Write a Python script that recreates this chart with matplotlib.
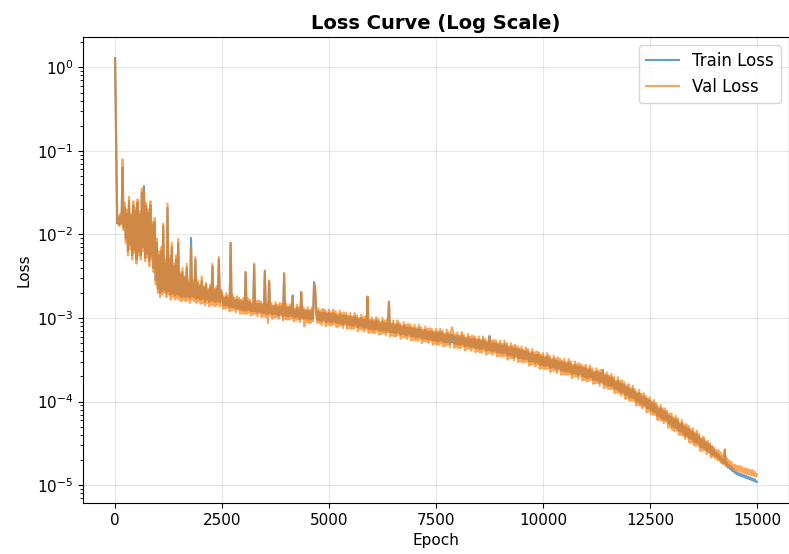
import numpy as np
import matplotlib
matplotlib.use('Agg')
import matplotlib.pyplot as plt

matplotlib.rcParams['path.simplify'] = False

# Data, log10(loss) every 25 epochs
epochs = np.arange(0, 15001, 25)

train_log10 = [
    # 0 - 2475
    0.11, -0.90, -1.87, -1.80, -1.88, -1.78, -1.86, -1.20, -1.92, -1.68,
    -2.05, -1.75, -2.20, -1.60, -2.12, -1.78, -2.25, -1.65, -2.18, -1.72,
    -2.30, -1.62, -2.20, -1.76, -2.25, -1.50, -2.15, -1.42, -2.28, -1.66,
    -2.24, -1.74, -2.32, -1.65, -2.26, -1.88, -2.40, -1.85, -2.55, -2.10,
    -2.65, -2.25, -2.70, -2.20, -2.68, -1.90, -2.66, -2.35, -2.70, -1.68,
    -2.68, -2.30, -2.72, -2.15, -2.70, -2.38, -2.73, -2.30, -2.72, -2.10,
    -2.73, -2.48, -2.75, -2.45, -2.74, -2.52, -2.75, -2.40, -2.74, -2.58,
    -2.76, -2.04, -2.74, -2.58, -2.75, -2.30, -2.77, -2.58, -2.76, -2.62,
    -2.78, -2.55, -2.77, -2.64, -2.80, -2.60, -2.78, -2.67, -2.81, -2.63,
    -2.79, -2.38, -2.80, -2.67, -2.81, -2.65, -2.80, -2.30, -2.81, -2.68,
    # 2500
    -2.74, -2.85, -2.76, -2.85, -2.74, -2.85, -2.76, -2.87, -2.10, -2.87,
    -2.76, -2.87, -2.79, -2.89, -2.78, -2.88, -2.79, -2.90, -2.80, -2.90,
    # 3000
    -2.80, -2.91, -2.45, -2.91, -2.80, -2.90, -2.81, -2.92, -2.84, -2.92,
    -2.36, -2.92, -2.83, -2.94, -2.83, -2.92, -2.83, -2.94, -2.85, -2.94,
    # 3500
    -2.44, -2.95, -2.85, -2.95, -2.56, -2.94, -2.85, -2.96, -2.87, -2.95,
    -2.85, -2.96, -2.87, -2.97, -2.86, -2.95, -2.86, -2.98, -2.47, -2.97,
    # 4000
    -2.87, -2.98, -2.88, -2.98, -2.87, -2.97, -2.73, -2.99, -2.91, -2.99,
    -2.88, -2.99, -2.90, -3.01, -2.69, -2.99, -2.90, -3.01, -2.92, -3.01,
    # 4500
    -2.91, -3.02, -2.92, -3.02, -2.91, -3.01, -2.57, -2.65, -2.94, -3.02,
    -2.92, -3.03, -2.94, -3.04, -2.93, -3.02, -2.93, -3.05, -2.95, -3.04,
    # 5000
    -2.94, -3.05, -2.95, -3.05, -2.94, -3.04, -2.95, -3.06, -2.98, -3.06,
    -2.95, -3.06, -2.97, -3.08, -2.97, -3.06, -2.97, -3.08, -2.99, -3.08,
    # 5500
    -2.98, -3.09, -3.00, -3.09, -2.98, -3.08, -3.00, -3.11, -3.02, -3.10,
    -3.00, -3.11, -3.02, -3.12, -3.02, -3.11, -2.75, -3.13, -3.04, -3.13,
    # 6000
    -3.03, -3.14, -3.04, -3.14, -3.03, -3.13, -3.04, -3.15, -3.07, -3.15,
    -3.04, -3.15, -3.06, -3.17, -3.06, -3.15, -2.81, -3.17, -3.08, -3.17,
    # 6500
    -3.07, -3.18, -3.09, -3.18, -3.07, -3.17, -3.09, -3.20, -3.11, -3.19,
    -3.09, -3.20, -3.11, -3.21, -3.11, -3.20, -3.11, -3.22, -3.13, -3.22,
    # 7000
    -3.12, -3.23, -3.14, -3.23, -3.12, -3.22, -3.14, -3.25, -3.16, -3.24,
    -3.14, -3.25, -3.16, -3.26, -3.16, -3.25, -3.16, -3.27, -3.18, -3.27,
    # 7500
    -3.17, -3.28, -3.18, -3.28, -3.17, -3.27, -3.18, -3.29, -3.21, -3.29,
    -3.18, -3.29, -3.20, -3.31, -3.20, -3.29, -3.20, -3.31, -3.22, -3.31,
    # 8000
    -3.21, -3.32, -3.23, -3.32, -3.21, -3.31, -3.23, -3.34, -3.25, -3.33,
    -3.23, -3.34, -3.25, -3.35, -3.25, -3.34, -3.25, -3.36, -3.27, -3.36,
    # 8500
    -3.26, -3.37, -3.28, -3.37, -3.26, -3.36, -3.28, -3.39, -3.30, -3.38,
    -3.22, -3.39, -3.30, -3.40, -3.30, -3.39, -3.30, -3.41, -3.32, -3.41,
    # 9000
    -3.31, -3.42, -3.33, -3.42, -3.31, -3.42, -3.33, -3.45, -3.36, -3.44,
    -3.34, -3.45, -3.36, -3.47, -3.36, -3.45, -3.37, -3.48, -3.38, -3.48,
    # 9500
    -3.38, -3.49, -3.40, -3.49, -3.39, -3.49, -3.40, -3.52, -3.43, -3.52,
    -3.41, -3.52, -3.44, -3.54, -3.44, -3.53, -3.44, -3.56, -3.46, -3.56,
    # 10000
    -3.46, -3.57, -3.48, -3.57, -3.46, -3.57, -3.48, -3.60, -3.51, -3.59,
    -3.49, -3.60, -3.51, -3.62, -3.51, -3.60, -3.52, -3.63, -3.53, -3.63,
    # 10500
    -3.53, -3.64, -3.55, -3.64, -3.53, -3.64, -3.55, -3.67, -3.58, -3.66,
    -3.56, -3.67, -3.58, -3.69, -3.58, -3.67, -3.59, -3.70, -3.60, -3.70,
    # 11000
    -3.60, -3.72, -3.62, -3.71, -3.61, -3.71, -3.63, -3.74, -3.66, -3.74,
    -3.64, -3.75, -3.66, -3.77, -3.66, -3.76, -3.62, -3.79, -3.69, -3.79,
    # 11500
    -3.69, -3.81, -3.71, -3.81, -3.71, -3.82, -3.73, -3.85, -3.77, -3.85,
    -3.75, -3.87, -3.78, -3.89, -3.79, -3.89, -3.80, -3.92, -3.83, -3.92,
    # 12000
    -3.83, -3.95, -3.86, -3.95, -3.85, -3.96, -3.88, -4.00, -3.91, -4.00,
    -3.90, -4.02, -3.94, -4.04, -3.94, -4.04, -3.96, -4.08, -3.98, -4.08,
    # 12500
    -3.99, -4.11, -4.02, -4.12, -4.02, -4.13, -4.05, -4.17, -4.09, -4.18,
    -4.08, -4.20, -4.11, -4.22, -4.12, -4.22, -4.14, -4.26, -4.17, -4.27,
    # 13000
    -4.18, -4.30, -4.21, -4.31, -4.21, -4.32, -4.23, -4.35, -4.27, -4.36,
    -4.26, -4.38, -4.30, -4.41, -4.31, -4.41, -4.32, -4.44, -4.35, -4.45,
    # 13500
    -4.36, -4.48, -4.39, -4.49, -4.39, -4.50, -4.42, -4.54, -4.45, -4.55,
    -4.45, -4.56, -4.49, -4.59, -4.50, -4.60, -4.52, -4.63, -4.54, -4.64,
    # 14000
    -4.58, -4.65, -4.61, -4.67, -4.63, -4.69, -4.66, -4.72, -4.69, -4.74,
    -4.58, -4.77, -4.73, -4.79, -4.76, -4.81, -4.78, -4.83, -4.81, -4.85,
    # 14500
    -4.84, -4.87, -4.85, -4.88, -4.86, -4.89, -4.87, -4.90, -4.88, -4.91,
    -4.89, -4.92, -4.90, -4.93, -4.91, -4.94, -4.92, -4.95, -4.93, -4.96,
    # 15000
    -4.96,
]

val_log10 = [
    # 0 - 2475
    0.11, -0.90, -1.85, -1.78, -1.90, -1.75, -1.88, -1.10, -1.95, -1.62,
    -2.10, -1.70, -2.25, -1.55, -2.18, -1.75, -2.30, -1.60, -2.22, -1.68,
    -2.35, -1.58, -2.25, -1.72, -2.30, -1.45, -2.20, -1.50, -2.32, -1.62,
    -2.28, -1.70, -2.38, -1.60, -2.30, -1.85, -2.45, -1.80, -2.60, -2.05,
    -2.70, -2.20, -2.75, -2.15, -2.72, -1.87, -2.70, -2.30, -2.75, -1.63,
    -2.72, -2.25, -2.78, -2.10, -2.75, -2.35, -2.78, -2.25, -2.76, -2.05,
    -2.78, -2.45, -2.80, -2.40, -2.78, -2.50, -2.80, -2.35, -2.79, -2.55,
    -2.82, -2.15, -2.78, -2.55, -2.80, -2.27, -2.82, -2.55, -2.80, -2.60,
    -2.83, -2.50, -2.82, -2.62, -2.85, -2.58, -2.82, -2.65, -2.86, -2.60,
    -2.84, -2.35, -2.85, -2.65, -2.86, -2.62, -2.84, -2.27, -2.86, -2.66,
    # 2500
    -2.70, -2.89, -2.74, -2.89, -2.70, -2.88, -2.73, -2.92, -2.10, -2.91,
    -2.72, -2.90, -2.76, -2.93, -2.74, -2.90, -2.76, -2.95, -2.78, -2.94,
    # 3000
    -2.76, -2.95, -2.45, -2.95, -2.76, -2.93, -2.78, -2.97, -2.82, -2.96,
    -2.35, -2.95, -2.80, -2.98, -2.79, -2.94, -2.80, -2.99, -2.83, -2.98,
    # 3500
    -2.43, -2.99, -2.83, -3.06, -2.55, -2.97, -2.82, -3.01, -2.85, -2.99,
    -2.81, -2.99, -2.84, -3.01, -2.82, -2.97, -2.83, -3.03, -2.46, -3.01,
    # 4000
    -2.83, -3.02, -2.86, -3.02, -2.83, -3.00, -2.76, -3.04, -2.89, -3.03,
    -2.84, -3.02, -2.87, -3.05, -2.69, -3.01, -2.87, -3.10, -2.90, -3.05,
    # 4500
    -2.87, -3.06, -2.90, -3.06, -2.87, -3.04, -2.60, -2.62, -2.92, -3.06,
    -2.88, -3.06, -2.91, -3.08, -2.89, -3.04, -2.90, -3.10, -2.93, -3.08,
    # 5000
    -2.90, -3.09, -2.93, -3.09, -2.90, -3.07, -2.92, -3.11, -2.96, -3.10,
    -2.91, -3.09, -2.94, -3.12, -2.93, -3.08, -2.94, -3.13, -2.97, -3.12,
    # 5500
    -2.94, -3.13, -2.98, -3.13, -2.94, -3.11, -2.97, -3.16, -3.00, -3.14,
    -2.96, -3.14, -2.99, -3.16, -2.98, -3.13, -2.74, -3.18, -3.02, -3.17,
    # 6000
    -2.99, -3.18, -3.02, -3.18, -2.99, -3.16, -3.01, -3.20, -3.05, -3.19,
    -3.00, -3.18, -3.03, -3.21, -3.02, -3.17, -2.80, -3.22, -3.06, -3.21,
    # 6500
    -3.03, -3.22, -3.07, -3.22, -3.03, -3.20, -3.06, -3.25, -3.09, -3.23,
    -3.05, -3.23, -3.08, -3.25, -3.07, -3.22, -3.08, -3.27, -3.11, -3.26,
    # 7000
    -3.08, -3.27, -3.12, -3.27, -3.08, -3.25, -3.11, -3.30, -3.14, -3.28,
    -3.10, -3.28, -3.13, -3.30, -3.12, -3.27, -3.13, -3.32, -3.16, -3.31,
    # 7500
    -3.13, -3.32, -3.16, -3.32, -3.13, -3.30, -3.15, -3.34, -3.19, -3.33,
    -3.14, -3.32, -3.17, -3.35, -3.16, -3.11, -3.17, -3.36, -3.20, -3.35,
    # 8000
    -3.17, -3.36, -3.21, -3.36, -3.17, -3.34, -3.20, -3.39, -3.23, -3.37,
    -3.19, -3.37, -3.22, -3.39, -3.21, -3.36, -3.22, -3.41, -3.25, -3.40,
    # 8500
    -3.22, -3.41, -3.26, -3.41, -3.22, -3.39, -3.25, -3.44, -3.28, -3.42,
    -3.21, -3.42, -3.27, -3.44, -3.26, -3.41, -3.27, -3.46, -3.30, -3.45,
    # 9000
    -3.27, -3.46, -3.31, -3.46, -3.27, -3.45, -3.30, -3.50, -3.34, -3.48,
    -3.30, -3.48, -3.33, -3.51, -3.32, -3.47, -3.34, -3.53, -3.36, -3.52,
    # 9500
    -3.34, -3.53, -3.38, -3.53, -3.35, -3.52, -3.37, -3.57, -3.41, -3.56,
    -3.37, -3.55, -3.41, -3.58, -3.40, -3.55, -3.41, -3.61, -3.44, -3.60,
    # 10000
    -3.42, -3.61, -3.46, -3.61, -3.42, -3.60, -3.45, -3.65, -3.49, -3.63,
    -3.45, -3.63, -3.48, -3.66, -3.47, -3.62, -3.49, -3.68, -3.51, -3.67,
    # 10500
    -3.49, -3.68, -3.53, -3.68, -3.49, -3.67, -3.52, -3.72, -3.56, -3.70,
    -3.52, -3.70, -3.55, -3.73, -3.54, -3.69, -3.56, -3.75, -3.58, -3.74,
    # 11000
    -3.56, -3.76, -3.60, -3.75, -3.57, -3.74, -3.60, -3.79, -3.64, -3.78,
    -3.60, -3.78, -3.63, -3.81, -3.62, -3.78, -3.62, -3.84, -3.67, -3.83,
    # 11500
    -3.65, -3.85, -3.69, -3.85, -3.67, -3.85, -3.70, -3.90, -3.75, -3.89,
    -3.71, -3.90, -3.75, -3.93, -3.75, -3.91, -3.77, -3.97, -3.81, -3.96,
    # 12000
    -3.79, -3.99, -3.84, -3.99, -3.81, -3.99, -3.85, -4.05, -3.89, -4.04,
    -3.86, -4.05, -3.91, -4.08, -3.90, -4.06, -3.93, -4.13, -3.96, -4.12,
    # 12500
    -3.95, -4.15, -4.00, -4.16, -3.98, -4.16, -4.02, -4.22, -4.07, -4.22,
    -4.04, -4.23, -4.08, -4.26, -4.08, -4.24, -4.11, -4.31, -4.15, -4.31,
    # 13000
    -4.14, -4.34, -4.19, -4.35, -4.17, -4.35, -4.20, -4.40, -4.25, -4.40,
    -4.22, -4.41, -4.27, -4.45, -4.27, -4.43, -4.29, -4.49, -4.33, -4.49,
    # 13500
    -4.32, -4.52, -4.37, -4.53, -4.35, -4.53, -4.39, -4.59, -4.44, -4.59,
    -4.42, -4.58, -4.47, -4.63, -4.47, -4.61, -4.50, -4.67, -4.53, -4.66,
    # 14000
    -4.55, -4.68, -4.58, -4.70, -4.58, -4.71, -4.61, -4.74, -4.64, -4.75,
    -4.57, -4.76, -4.68, -4.78, -4.70, -4.78, -4.72, -4.81, -4.75, -4.82,
    # 14500
    -4.76, -4.83, -4.77, -4.83, -4.77, -4.84, -4.78, -4.85, -4.80, -4.86,
    -4.80, -4.87, -4.81, -4.87, -4.82, -4.88, -4.82, -4.89, -4.84, -4.90,
    # 15000
    -4.87,
]

train_loss = 10 ** np.array(train_log10)
val_loss = 10 ** np.array(val_log10)

# Global parameters
linewidth = 1.5
tick_font_size = 11
label_font_size = 11
title_font_size = 14
legend_font_size = 12

fig = plt.figure(figsize=(7.89, 5.54), dpi=100)
ax = fig.add_axes([83 / 789, 51 / 554, 706 / 789, 466 / 554])

ax.plot(epochs, train_loss, color='C0', alpha=0.7, linewidth=linewidth,
        label='Train Loss')
ax.plot(epochs, val_loss, color='C1', alpha=0.7, linewidth=linewidth,
        label='Val Loss')

ax.set_yscale('log')
ax.set_xticks([0, 2500, 5000, 7500, 10000, 12500, 15000])
ax.set_xlabel('Epoch', fontsize=label_font_size)
ax.set_ylabel('Loss', fontsize=label_font_size)
ax.set_title('Loss Curve (Log Scale)', fontsize=title_font_size,
             fontweight='bold')
ax.tick_params(axis='both', which='major', labelsize=tick_font_size)
ax.grid(True, alpha=0.3)
ax.legend(fontsize=legend_font_size, loc='upper right')

fig.savefig('out.png', dpi=100)
